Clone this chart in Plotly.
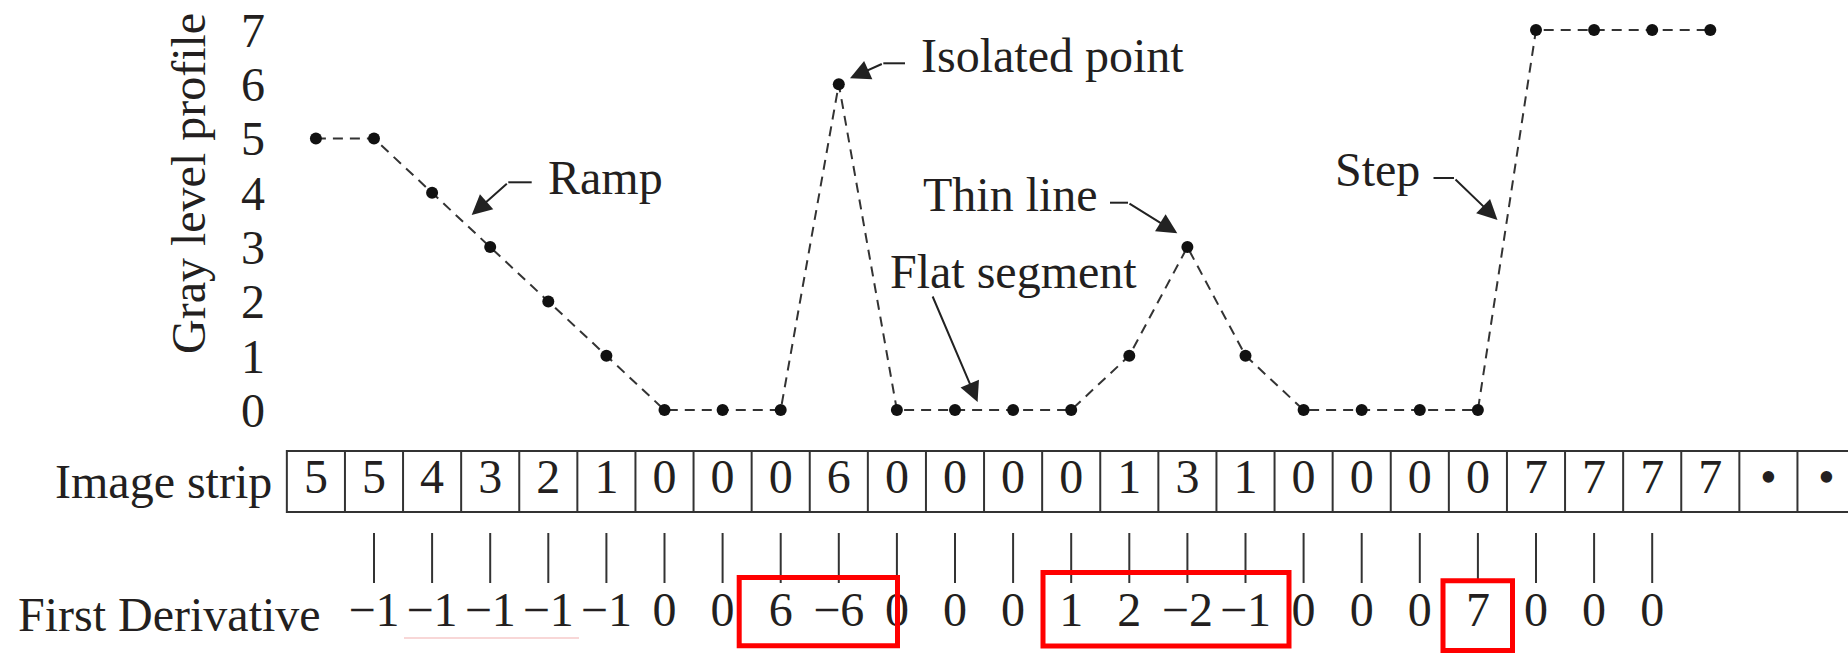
import plotly.graph_objects as go

# ---------------- data ----------------
indices = list(range(25))
profile = [5, 5, 4, 3, 2, 1, 0, 0, 0, 6, 0, 0, 0, 0, 1, 3, 1, 0, 0, 0, 0, 7, 7, 7, 7]
strip_labels = ["5", "5", "4", "3", "2", "1", "0", "0", "0", "6", "0", "0", "0", "0",
                "1", "3", "1", "0", "0", "0", "0", "7", "7", "7", "7", "•", "•"]
deriv_index = list(range(1, 24))
deriv_labels = ["−1", "−1", "−1", "−1", "−1", "0", "0", "6", "−6", "0", "0", "0",
                "1", "2", "−2", "−1", "0", "0", "0", "7", "0", "0", "0"]
y_ticks = [0, 1, 2, 3, 4, 5, 6, 7]

# ---------------- layout helpers ----------------
W, H = 1848, 653
X0PX, DXPX = 315.9, 58.1      # pixel of index 0, pixels per index
Y0PX, DYPX = 410.0, 54.3      # pixel of level 0, pixels per level


def dx(px):
    return (px - X0PX) / DXPX


def dy(py):
    return (Y0PX - py) / DYPX


FONT = "Liberation Serif, Times New Roman, serif"
INK = "#231f20"
FS = 48

fig = go.Figure()

# profile
fig.add_trace(go.Scatter(
    x=indices, y=profile, mode="lines+markers",
    line=dict(color="#333333", width=2, dash="10px,7px"),
    marker=dict(color="#111111", size=12),
    hoverinfo="skip", showlegend=False,
))

# strip values
n_cells = len(strip_labels)
fig.add_trace(go.Scatter(
    x=list(range(n_cells)), y=[dy(481)] * n_cells, mode="text",
    text=strip_labels,
    textfont=dict(family=FONT, size=FS, color=INK),
    textposition="middle center", hoverinfo="skip", showlegend=False,
))

# connector ticks between strip and derivative
tx, ty = [], []
for i in deriv_index:
    tx += [i, i, None]
    ty += [dy(533), dy(583), None]
fig.add_trace(go.Scatter(
    x=tx, y=ty, mode="lines", line=dict(color="#333333", width=2),
    hoverinfo="skip", showlegend=False,
))

# derivative values
fig.add_trace(go.Scatter(
    x=deriv_index, y=[dy(614)] * len(deriv_index), mode="text",
    text=deriv_labels, textfont=dict(family=FONT, size=FS, color=INK),
    textposition="middle center", hoverinfo="skip", showlegend=False,
))

shapes = []
# strip box
st_top, st_bot = dy(451), dy(512)
shapes.append(dict(type="rect", xref="x", yref="y", x0=-0.5, x1=n_cells - 0.5,
                   y0=st_bot, y1=st_top, line=dict(color="#333333", width=2)))
for k in range(1, n_cells):
    shapes.append(dict(type="line", xref="x", yref="y", x0=k - 0.5, x1=k - 0.5,
                       y0=st_bot, y1=st_top, line=dict(color="#333333", width=2)))

# red highlight boxes
for (a, b, c, d) in [(739.2, 897.5, 577.5, 645.8),
                     (1043, 1289, 572.5, 646),
                     (1443, 1512.5, 580.8, 650.5)]:
    shapes.append(dict(type="rect", xref="x", yref="y", x0=dx(a), x1=dx(b),
                       y0=dy(d), y1=dy(c), line=dict(color="#ff0000", width=5)))

# faint artifact line under derivative values
shapes.append(dict(type="line", xref="x", yref="y", x0=dx(404), x1=dx(579),
                   y0=dy(638), y1=dy(638), line=dict(color="#f6caca", width=1.5)))

# leader stubs
for (x0, y0, x1, y1) in [(905, 63.3, 883.3, 63.3),
                         (531.7, 182.3, 508.3, 182.3),
                         (1110, 202.7, 1128, 202.7),
                         (1433.5, 178, 1454, 178)]:
    shapes.append(dict(type="line", xref="x", yref="y", x0=dx(x0), x1=dx(x1),
                       y0=dy(y0), y1=dy(y1), line=dict(color="#222222", width=2)))

annotations = []
# label texts
for (txt, xp, yp, anc) in [("Isolated point", 919, 55, "left"),
                           ("Ramp", 546, 177, "left"),
                           ("Thin line", 921, 194, "left"),
                           ("Flat segment", 888, 271, "left"),
                           ("Step", 1333, 169, "left"),
                           ("Image strip", 274, 481, "right"),
                           ("First Derivative", 16, 614, "left")]:
    annotations.append(dict(text=txt, x=dx(xp), y=dy(yp), xref="x", yref="y",
                            xanchor=anc, yanchor="middle", showarrow=False,
                            font=dict(family=FONT, size=FS, color=INK)))

# y axis title
annotations.append(dict(text="Gray level profile", x=dx(188.5), y=dy(183.5), xref="x", yref="y",
                        xanchor="center", yanchor="middle", textangle=-90, showarrow=False,
                        font=dict(family=FONT, size=FS, color=INK)))

# arrows
for (tx0, ty0, hx, hy) in [(883.3, 63.3, 850, 78.3),
                           (508.3, 182.3, 471.7, 215),
                           (1128, 202.7, 1177.3, 233.3),
                           (1454, 178, 1497.5, 220),
                           (932, 295, 977.6, 402)]:
    annotations.append(dict(text="", x=dx(hx), y=dy(hy), ax=dx(tx0), ay=dy(ty0),
                            xref="x", yref="y", axref="x", ayref="y",
                            showarrow=True, arrowhead=2, arrowsize=2, arrowwidth=2,
                            arrowcolor="#222222", standoff=0))

fig.update_layout(
    width=W, height=H,
    margin=dict(l=0, r=0, t=0, b=0),
    paper_bgcolor="white", plot_bgcolor="white",
    shapes=shapes, annotations=annotations,
    xaxis=dict(range=[dx(0), dx(W)], domain=[0, 1], visible=False, fixedrange=True),
    yaxis=dict(range=[dy(H), dy(0)], domain=[0, 1], anchor="free",
               position=265 / W,
               tickvals=y_ticks, ticktext=[str(v) for v in y_ticks], ticks="",
               ticklabeloverflow="allow",
               showgrid=False, zeroline=False, showline=False, automargin=False,
               tickfont=dict(family=FONT, size=FS, color=INK), fixedrange=True),
    showlegend=False,
)

fig.write_html(
    "out.html",
    config={"displayModeBar": False},
    post_script="document.body.style.margin='0';document.body.style.padding='0';",
)
